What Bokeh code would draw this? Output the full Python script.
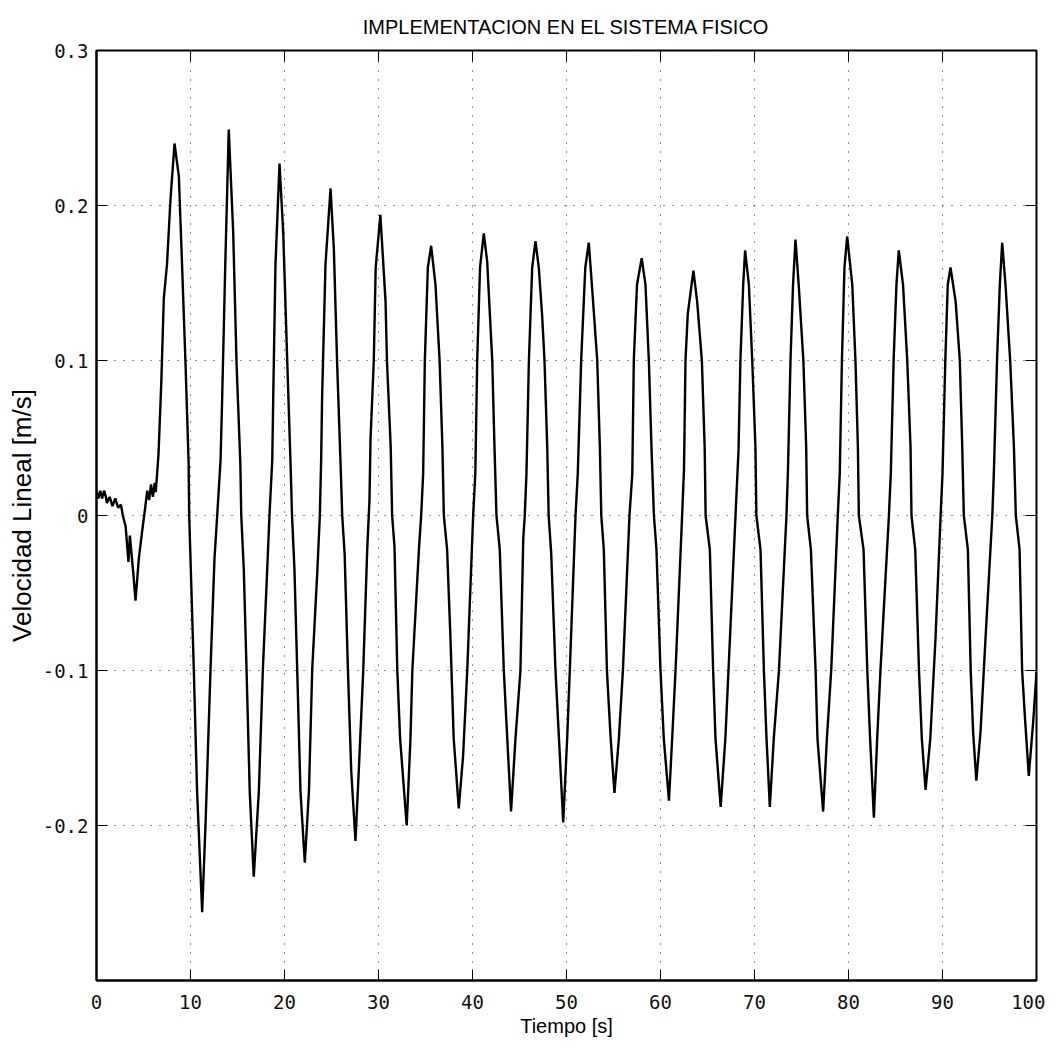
from bokeh.plotting import figure
from bokeh.models import FixedTicker, CustomJSTickFormatter, Range1d
from bokeh.embed import file_html
from bokeh.resources import INLINE
import math

# ---- data ----
time_s = [
    0.0, 0.2, 0.4, 0.6, 0.8, 1.0, 1.1, 1.4, 1.7, 2.0, 2.3, 2.6, 2.8, 3.1, 3.4, 3.55, 3.9, 4.15, 4.5, 4.86,
    5.2, 5.4, 5.6, 5.8, 6.0, 6.2, 6.3, 6.45, 6.6, 6.9, 7.16, 7.5, 7.87, 8.3,
    8.76, 9.1, 9.47, 9.8, 9.86, 10.0, 10.35, 10.7, 11.24, 11.6, 12.13, 12.55, 12.84, 13.2, 13.37, 13.7, 14.07,
    14.54, 14.9, 15.3, 15.4, 15.67, 15.96, 16.3, 16.73, 17.27, 17.7, 18.16, 18.4, 18.7, 18.8, 19.04, 19.47,
    19.86, 20.3, 20.64, 20.8, 21.06, 21.35, 21.7, 22.16, 22.6, 22.95, 23.5, 23.76, 23.9, 24.0, 24.36, 24.9,
    25.25, 25.6, 25.96, 26.14, 26.4, 26.75, 27.1, 27.55, 27.9, 28.37, 28.8, 29.04, 29.15, 29.5, 29.7, 30.2,
    30.75, 30.9, 31.3, 31.45, 31.7, 32.0, 32.3, 33.0, 33.4, 33.6, 34.3, 34.54, 34.75, 34.93, 35.25, 35.6,
    36.06, 36.5, 36.8, 36.95, 37.3, 37.66, 38.0, 38.54, 39.0, 39.44, 40.07, 40.3, 40.5, 40.8, 41.2,
    41.56, 42.1, 42.34, 42.55, 42.9, 43.33, 43.7, 44.1, 44.57, 45.1, 45.4, 45.56, 45.74, 46.0, 46.35, 46.7,
    47.05, 47.4, 47.66, 47.95, 48.1, 48.37, 48.83, 49.2, 49.65, 50.07, 50.35, 50.96, 51.2, 51.56, 52.0, 52.37,
    52.7, 53.27, 53.55, 53.7, 53.97, 54.3, 54.7, 55.1, 55.57, 56.0, 56.7, 57.0, 57.16, 57.5, 58.0,
    58.4, 58.76, 59.04, 59.3, 59.57, 60.0, 60.35, 60.9, 61.24, 61.6, 62.3, 62.5, 62.66, 62.9, 63.5,
    63.9, 64.4, 64.7, 64.8, 65.25, 65.6, 65.85, 66.4, 66.9, 67.45, 67.98, 68.3, 68.5, 68.8, 69.0,
    69.4, 69.76, 70.1, 70.2, 70.64, 71.0, 71.28, 71.63, 72.05, 72.6, 73.4, 73.55, 73.83, 74.1, 74.36,
    74.7, 75.2, 75.5, 75.6, 76.0, 76.5, 76.7, 77.3, 77.7, 78.16, 78.86, 79.07, 79.3, 79.57, 79.86,
    80.4, 80.74, 81.0, 81.1, 81.6, 82.0, 82.3, 82.7, 83.05, 83.4, 84.3, 84.5, 84.8, 85.1, 85.35,
    85.8, 86.25, 86.6, 86.7, 87.1, 87.5, 87.8, 88.2, 88.7, 89.25, 89.8, 90.0, 90.3, 90.56, 90.85,
    91.4, 91.84, 92.1, 92.27, 92.7, 93.0, 93.26, 93.6, 94.04, 94.57, 95.3, 95.46, 95.8, 96.1, 96.35,
    96.7, 97.2, 97.6, 97.8, 98.2, 98.47, 98.8, 99.18, 99.65, 100.0,
]
velocity = [
    0.016, 0.011, 0.016, 0.011, 0.016, 0.012, 0.008, 0.012, 0.006, 0.011, 0.005, 0.007, 0.0, -0.007, -0.030, -0.013, -0.036, -0.055, -0.028, -0.010,
    0.006, 0.016, 0.010, 0.020, 0.012, 0.021, 0.015, 0.027, 0.040, 0.087, 0.140, 0.162, 0.204, 0.240,
    0.219, 0.162, 0.098, 0.034, 0.0, -0.028, -0.099, -0.178, -0.256, -0.199, -0.099, -0.028, 0.0, 0.036, 0.076, 0.162, 0.249,
    0.183, 0.098, 0.034, 0.0, -0.035, -0.099, -0.178, -0.233, -0.178, -0.099, -0.035, 0.0, 0.036, 0.076, 0.162, 0.227,
    0.183, 0.098, 0.034, 0.0, -0.035, -0.099, -0.178, -0.224, -0.178, -0.099, -0.035, 0.0, 0.036, 0.076, 0.162, 0.211,
    0.172, 0.098, 0.034, 0.0, -0.025, -0.100, -0.165, -0.210, -0.165, -0.101, -0.022, 0.010, 0.049, 0.100, 0.160, 0.194,
    0.138, 0.100, 0.044, 0.0, -0.020, -0.100, -0.144, -0.200, -0.144, -0.100, -0.022, 0.0, 0.027, 0.100, 0.160, 0.174,
    0.149, 0.100, 0.044, 0.0, -0.022, -0.080, -0.144, -0.189, -0.155, -0.100, 0.0, 0.027, 0.100, 0.160, 0.182,
    0.164, 0.100, 0.044, 0.0, -0.022, -0.100, -0.144, -0.191, -0.144, -0.100, -0.015, 0.0, 0.027, 0.100, 0.160, 0.177,
    0.160, 0.130, 0.100, 0.044, 0.0, -0.024, -0.100, -0.144, -0.198, -0.144, -0.100, 0.0, 0.027, 0.100, 0.160, 0.176,
    0.149, 0.100, 0.044, 0.0, -0.022, -0.100, -0.144, -0.179, -0.144, -0.100, 0.0, 0.027, 0.100, 0.149, 0.166,
    0.149, 0.100, 0.044, 0.0, -0.022, -0.100, -0.144, -0.184, -0.144, -0.100, 0.0, 0.030, 0.100, 0.130, 0.158,
    0.138, 0.100, 0.044, 0.0, -0.022, -0.100, -0.144, -0.188, -0.144, -0.071, 0.0, 0.042, 0.100, 0.149, 0.171,
    0.149, 0.100, 0.044, 0.0, -0.022, -0.100, -0.144, -0.188, -0.144, -0.100, 0.0, 0.027, 0.100, 0.149, 0.178,
    0.149, 0.100, 0.044, 0.0, -0.022, -0.100, -0.144, -0.191, -0.144, -0.100, 0.0, 0.027, 0.100, 0.160, 0.180,
    0.149, 0.100, 0.044, 0.0, -0.022, -0.100, -0.144, -0.195, -0.144, -0.100, 0.0, 0.027, 0.100, 0.149, 0.171,
    0.149, 0.100, 0.044, 0.0, -0.022, -0.100, -0.144, -0.177, -0.144, -0.080, 0.0, 0.027, 0.100, 0.149, 0.160,
    0.138, 0.100, 0.044, 0.0, -0.022, -0.100, -0.140, -0.171, -0.140, -0.080, 0.0, 0.027, 0.100, 0.149, 0.176,
    0.149, 0.100, 0.044, 0.0, -0.022, -0.100, -0.133, -0.168, -0.133, -0.101,
]
x_ticks = [0, 10, 20, 30, 40, 50, 60, 70, 80, 90, 100]
y_ticks = [-0.2, -0.1, 0.0, 0.1, 0.2, 0.3]
x_limits = (0, 100)
y_limits = (-0.3, 0.3)
title_text = "IMPLEMENTACION EN EL SISTEMA FISICO"
x_label = "Tiempo [s]"
y_label = "Velocidad Lineal [m/s]"

p = figure(
    width=1045, height=1041,
    x_range=Range1d(*x_limits), y_range=Range1d(*y_limits),
    output_backend="svg", toolbar_location=None,
    min_border_left=96, min_border_top=45, min_border_right=9, min_border_bottom=61,
    background_fill_color="white", border_fill_color="white",
)

p.line(time_s, velocity, line_color="black", line_width=2.4)

# inward tick marks on the top and right edges (half of each dash is clipped by the frame)
p.scatter(x_ticks, [y_limits[1]] * len(x_ticks), marker="dash", size=22, angle=math.pi / 2,
          line_color="black", line_width=1)
p.scatter([x_limits[1]] * len(y_ticks), y_ticks, marker="dash", size=22,
          line_color="black", line_width=1)

p.title.text = title_text
p.title.align = "center"
p.title.text_font = "Liberation Sans"
p.title.text_font_size = "20px"
p.title.text_font_style = "normal"
p.title.text_color = "black"
p.title.standoff = 26

yfmt = CustomJSTickFormatter(code="return Math.abs(tick) < 1e-9 ? '0' : tick.toFixed(1);")

for ax in (p.xaxis[0], p.yaxis[0]):
    ax.major_label_text_font = "DejaVu Sans Mono"
    ax.major_label_text_font_size = "19px"
    ax.major_label_text_color = "#111111"
    ax.axis_label_text_font_style = "normal"
    ax.axis_label_text_color = "black"
    ax.axis_label_text_font = "Liberation Sans"
    ax.major_tick_in = 11
    ax.major_tick_out = 0
    ax.minor_tick_line_color = None
    ax.axis_line_width = 2
    ax.major_tick_line_color = "black"

p.xaxis[0].ticker = FixedTicker(ticks=x_ticks)
p.xaxis[0].axis_label = x_label
p.xaxis[0].axis_label_text_font_size = "20px"
p.xaxis[0].major_label_standoff = 14
p.xaxis[0].axis_label_standoff = 3

p.yaxis[0].ticker = FixedTicker(ticks=y_ticks)
p.yaxis[0].formatter = yfmt
p.yaxis[0].axis_label = y_label
p.yaxis[0].axis_label_text_font_size = "26px"
p.yaxis[0].major_label_standoff = 8
p.yaxis[0].axis_label_standoff = 3

for g, t in ((p.xgrid[0], x_ticks), (p.ygrid[0], y_ticks)):
    g.ticker = FixedTicker(ticks=t)
    g.grid_line_color = "black"
    g.grid_line_dash = "1 8"
    g.grid_line_width = 1
    g.grid_line_alpha = 0.85

p.outline_line_color = "black"
p.outline_line_width = 2

open("out.html", "w").write(file_html(p, INLINE))
